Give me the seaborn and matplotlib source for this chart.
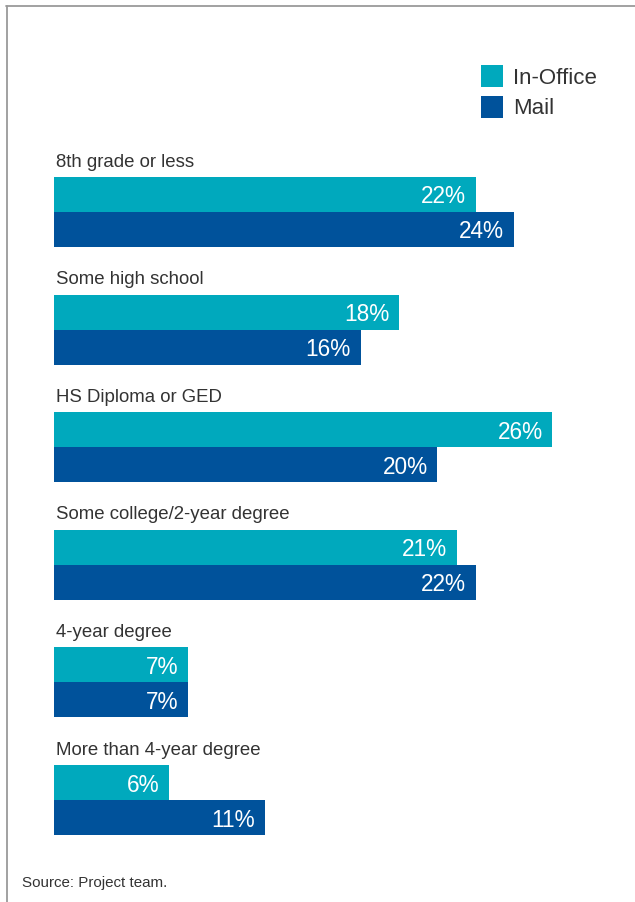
import matplotlib
matplotlib.use("Agg")
import matplotlib.pyplot as plt
import seaborn as sns
import pandas as pd
from matplotlib.lines import Line2D
from matplotlib.patches import Patch

# Education level by filing channel (share of filers, %)
categories = [
    "8th grade or less",
    "Some high school",
    "HS Diploma or GED",
    "Some college/2-year degree",
    "4-year degree",
    "More than 4-year degree",
]
in_office = [22, 18, 26, 21, 7, 6]
mail = [24, 16, 20, 22, 7, 11]
series = ["In-Office", "Mail"]
colors = ["#00A9BD", "#00529B"]
source_note = "Source: Project team."

df = pd.DataFrame({
    "category": categories * 2,
    "value": in_office + mail,
    "series": [series[0]] * len(categories) + [series[1]] * len(categories),
})

sns.set_theme(style="white")
plt.rcParams["font.family"] = ["Liberation Sans", "DejaVu Sans"]

W, H = 635, 902
fig = plt.figure(figsize=(W / 100, H / 100), dpi=100)
top_px, bot_px = 100, 860
ax = fig.add_axes([54 / W, 1 - bot_px / H, 575 / W, (bot_px - top_px) / H])

sns.barplot(data=df, y="category", x="value", hue="series", palette=colors,
            orient="h", width=0.595, dodge=True, saturation=1, errorbar=None,
            linewidth=0, legend=False, ax=ax)
ax.set_xlim(0, 30)
ax.set_ylim(5.510, -0.952)
ax.set_axis_off()

text_col = "#333333"

# value labels inside the bar ends
for container in ax.containers:
    for bar in container:
        w = bar.get_width()
        ax.annotate(f"{w:.0f}%", xy=(w, bar.get_y() + bar.get_height() / 2),
                    xytext=(-7, 0), textcoords="offset points",
                    ha="right", va="center_baseline", color="white", fontsize=16.3)

# category titles above each pair of bars
for i, cat in enumerate(categories):
    bar = ax.containers[0][i]
    ax.annotate(cat, xy=(0, bar.get_y()), xytext=(1.5, 7.5),
                textcoords="offset points", ha="left", va="baseline",
                fontsize=13.4, color=text_col)

handles = [Patch(facecolor=c, edgecolor="none") for c in colors]
fig.legend(handles, series, loc="upper left", bbox_to_anchor=(481 / W, 1 - 65 / H),
           frameon=False, fontsize=16, handlelength=1.0, handleheight=1.15,
           handletextpad=0.45, labelspacing=0.32, borderpad=0, borderaxespad=0,
           labelcolor=text_col)

# panel frame: top and left rules
frame_col = "#9a9a9a"
fig.add_artist(Line2D([6.5 / W, 6.5 / W], [0, 1 - 5.5 / H], transform=fig.transFigure,
                      color=frame_col, lw=1.3))
fig.add_artist(Line2D([6 / W, 1], [1 - 5.5 / H, 1 - 5.5 / H], transform=fig.transFigure,
                      color=frame_col, lw=1.3))

fig.text(22 / W, 1 - 883 / H, source_note, va="center", ha="left", fontsize=10.9,
         color=text_col)

fig.savefig("out.png", dpi=100)
